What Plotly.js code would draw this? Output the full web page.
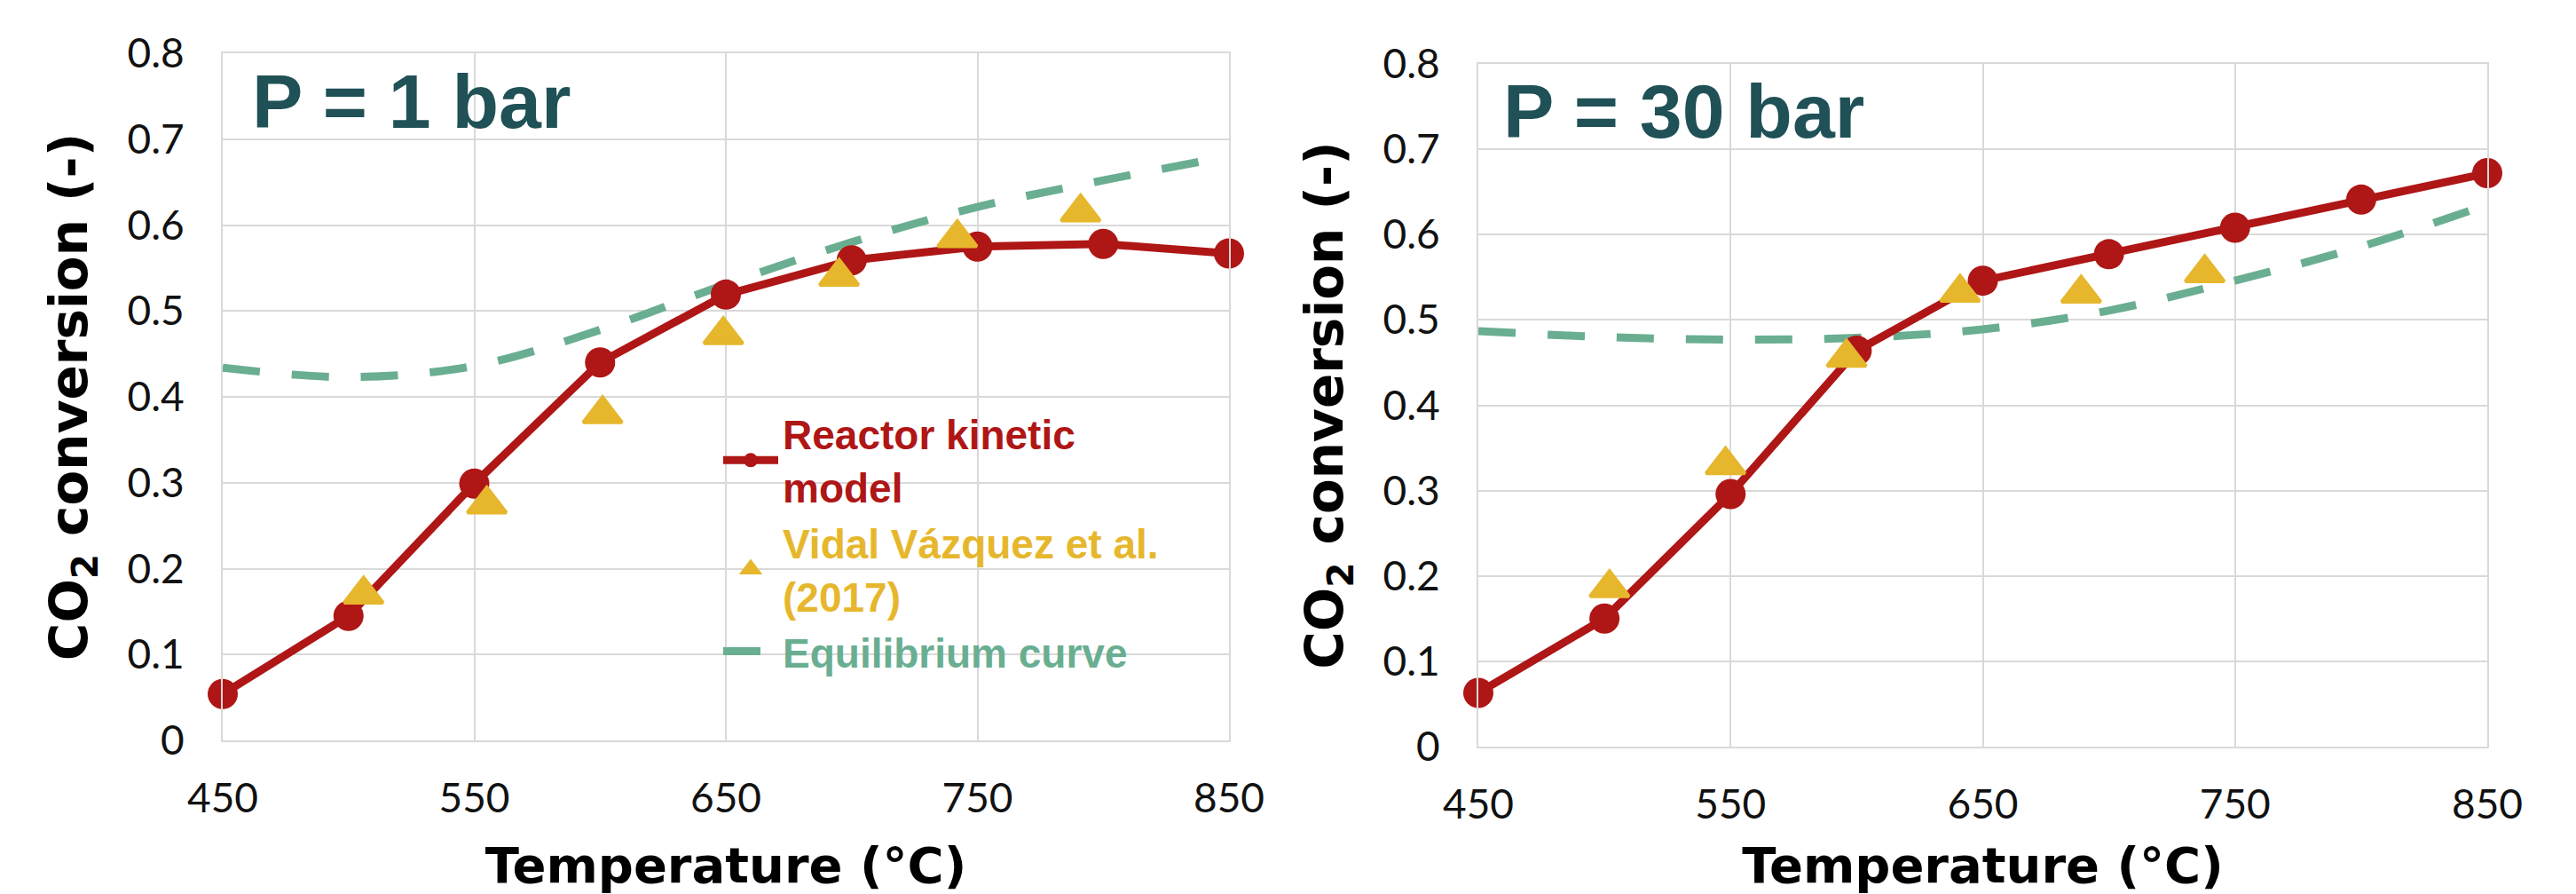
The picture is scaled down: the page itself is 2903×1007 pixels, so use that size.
<!DOCTYPE html>
<html>
<head>
<meta charset="utf-8">
<script src="https://cdn.plot.ly/plotly-3.0.1.min.js"></script>
<style>html,body{margin:0;padding:0;background:#fff;}#chart{width:2903px;height:1007px;}</style>
</head>
<body>
<div id="chart"></div>
<script>
// ---- data ----
const temps = [450, 500, 550, 600, 650, 700, 750, 800, 850];
const xTicks = [450, 550, 650, 750, 850];

// P = 1 bar
const model1 = [0.054, 0.145, 0.299, 0.440, 0.519, 0.559, 0.575, 0.578, 0.567];
const expT1 = [506, 555, 601, 649, 695, 742, 791];
const exp1 = [0.170, 0.275, 0.380, 0.472, 0.540, 0.585, 0.615];
const eq1 = [0.434, 0.423, 0.436, 0.478, 0.531, 0.580, 0.621, 0.652, 0.680];

// P = 30 bar
const model2 = [0.063, 0.150, 0.296, 0.464, 0.546, 0.577, 0.608, 0.641, 0.672];
const expT2 = [502, 548, 596, 641, 689, 738];
const exp2 = [0.186, 0.330, 0.456, 0.532, 0.531, 0.555];
const eq2 = [0.487, 0.480, 0.477, 0.479, 0.489, 0.511, 0.546, 0.586, 0.635];

const seriesNames = ['Reactor kinetic<br>model', 'Vidal Vázquez et al.<br>(2017)', 'Equilibrium curve'];
const panelLabels = ['P = 1 bar', 'P = 30 bar'];

// ---- styles ----
const RED = '#AF1616', YEL = '#E6B72C', GRN = '#6AAE91', TEAL = '#1F5156';
const W = 2903, H = 1007;

function traces(model, expT, exp, eq, xa, ya, showLeg) {
  return [
    {x: temps, y: eq, xaxis: xa, yaxis: ya, mode: 'lines', line: {shape: 'spline', color: GRN, width: 9, dash: '42px,36px'},
     name: '<span style="color:' + GRN + '">' + seriesNames[2] + '</span>', showlegend: showLeg, legendrank: 3, cliponaxis: false},
    {x: temps, y: model, xaxis: xa, yaxis: ya, mode: 'lines+markers', line: {color: RED, width: 9},
     marker: {color: RED, size: 34, symbol: 'circle'},
     name: '<span style="color:' + RED + '">' + seriesNames[0] + '</span>', showlegend: showLeg, legendrank: 1, cliponaxis: false},
    {x: expT, y: exp, xaxis: xa, yaxis: ya, mode: 'markers',
     marker: {color: YEL, size: 38, symbol: 'triangle-up', line: {color: YEL, width: 4}},
     name: '<span style="color:' + YEL + '">' + seriesNames[1] + '</span>', showlegend: showLeg, legendrank: 2, cliponaxis: false}
  ];
}

const data = [].concat(
  traces(model1, expT1, exp1, eq1, 'x', 'y', true),
  traces(model2, expT2, exp2, eq2, 'x2', 'y2', false)
);

const tickFont = {family: 'Lato, "Open Sans", sans-serif', size: 46, color: '#111'};
const xTitleFont = {family: '"DejaVu Sans", sans-serif', size: 56, color: '#000', weight: 'bold'};
const yTitleFont = {family: '"DejaVu Sans", sans-serif', size: 58, color: '#000', weight: 'bold'};

function xAxis(dom, anchor) {
  return {domain: dom, anchor: anchor, range: [450, 850], tickmode: 'array', tickvals: xTicks,
    showgrid: true, gridcolor: '#D9D9D9', gridwidth: 2, zeroline: false,
    showline: true, linecolor: '#D9D9D9', linewidth: 2, mirror: true, ticks: '',
    tickfont: tickFont, ticklabelstandoff: 24,
    title: {text: 'Temperature (°C)', font: xTitleFont, standoff: 34}};
}
function yAxis(dom, anchor) {
  return {domain: dom, anchor: anchor, range: [0, 0.8], dtick: 0.1, tick0: 0,
    showgrid: true, gridcolor: '#D9D9D9', gridwidth: 2, zeroline: false,
    showline: true, linecolor: '#D9D9D9', linewidth: 2, mirror: true, ticks: '',
    tickfont: tickFont, ticklabelstandoff: 32,
    title: {text: 'CO<sub>2</sub> conversion (-)', font: yTitleFont, standoff: 26}};
}

const layout = {
  width: W, height: H,
  margin: {l: 0, r: 0, t: 0, b: 0, pad: 0},
  paper_bgcolor: '#fff', plot_bgcolor: '#fff',
  showlegend: true,
  xaxis: xAxis([251 / W, 1385 / W], 'y'),
  yaxis: yAxis([1 - 834 / H, 1 - 60 / H], 'x'),
  xaxis2: xAxis([1666 / W, 2803 / W], 'y2'),
  yaxis2: yAxis([1 - 841 / H, 1 - 72 / H], 'x2'),
  legend: {x: 810 / W, y: 1 - 452 / H, xanchor: 'left', yanchor: 'top', bgcolor: 'rgba(0,0,0,0)',
    font: {family: '"Liberation Sans", Arial, sans-serif', size: 46, weight: 'bold'},
    itemwidth: 62, tracegroupgap: 0, traceorder: 'normal'},
  annotations: [
    {text: panelLabels[0], xref: 'paper', yref: 'paper', x: 282 / W, y: 1 - 114 / H, xanchor: 'left', yanchor: 'middle',
     showarrow: false, font: {family: '"Liberation Sans", Arial, sans-serif', size: 86, color: TEAL, weight: 'bold'}},
    {text: panelLabels[1], xref: 'paper', yref: 'paper', x: 1692 / W, y: 1 - 125 / H, xanchor: 'left', yanchor: 'middle',
     showarrow: false, font: {family: '"Liberation Sans", Arial, sans-serif', size: 86, color: TEAL, weight: 'bold'}}
  ]
};

Plotly.newPlot('chart', data, layout, {staticPlot: true, displayModeBar: false});
</script>
</body>
</html>
